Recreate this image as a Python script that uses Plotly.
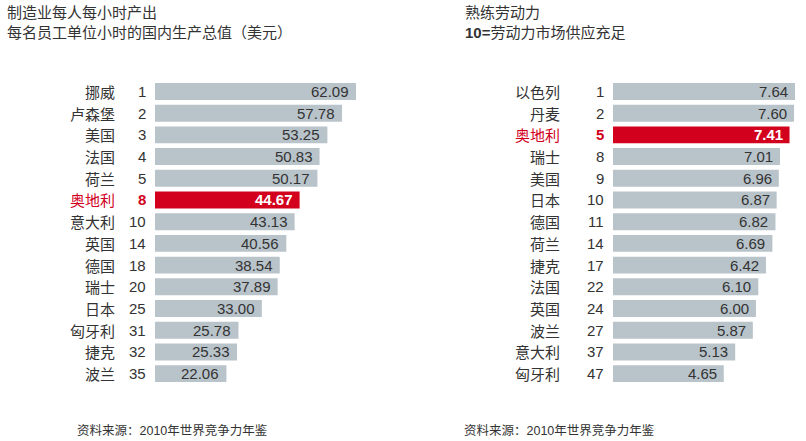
import plotly.graph_objects as go

W, H = 806, 441

left_countries = ["挪威", "卢森堡", "美国", "法国", "荷兰", "奥地利", "意大利", "英国", "德国", "瑞士", "日本", "匈牙利", "捷克", "波兰"]
left_ranks = [1, 2, 3, 4, 5, 8, 10, 14, 18, 20, 25, 31, 32, 35]
left_values = [62.09, 57.78, 53.25, 50.83, 50.17, 44.67, 43.13, 40.56, 38.54, 37.89, 33.00, 25.78, 25.33, 22.06]

right_countries = ["以色列", "丹麦", "奥地利", "瑞士", "美国", "日本", "德国", "荷兰", "捷克", "法国", "英国", "波兰", "意大利", "匈牙利"]
right_ranks = [1, 2, 5, 8, 9, 10, 11, 14, 17, 22, 24, 27, 37, 47]
right_values = [7.64, 7.60, 7.41, 7.01, 6.96, 6.87, 6.82, 6.69, 6.42, 6.10, 6.00, 5.87, 5.13, 4.65]

highlight = "奥地利"

left_title = ["制造业每人每小时产出", "每名员工单位小时的国内生产总值（美元）"]
right_title = ["熟练劳动力", "<b>10=</b>劳动力市场供应充足"]
source = "资料来源：2010年世界竞争力年鉴"

GRAY = "#B9C3CA"
RED = "#D2001C"
TXT = "#333333"
FONT = "Liberation Sans, Arial, Noto Sans CJK SC, sans-serif"
CJK = "Noto Sans CJK SC, sans-serif"

fig = go.Figure()

def px_x(p):
    return p / W

def px_y(p):
    return 1 - p / H

panels = [
    dict(c=left_countries, r=left_ranks, v=left_values, xa="x", name_x=117, rank_x=148, fmt="{:.2f}"),
    dict(c=right_countries, r=right_ranks, v=right_values, xa="x2", name_x=562, rank_x=606, fmt="{:.2f}"),
]

annotations = []
for p in panels:
    idx = list(range(len(p["c"])))
    colors = [RED if c == highlight else GRAY for c in p["c"]]
    fig.add_trace(go.Bar(
        x=p["v"], y=idx, orientation="h", xaxis=p["xa"], yaxis="y",
        marker=dict(color=colors, line=dict(width=0)), width=0.78,
        hoverinfo="skip", showlegend=False,
    ))
    for i, (c, r, v) in enumerate(zip(p["c"], p["r"], p["v"])):
        hl = c == highlight
        annotations.append(dict(
            x=px_x(p["name_x"]), xref="paper", y=i, yref="y", xanchor="right", yanchor="middle",
            text=c, showarrow=False,
            font=dict(family=CJK, size=15, color=RED if hl else TXT),
        ))
        annotations.append(dict(
            x=px_x(p["rank_x"]), xref="paper", y=i, yref="y", xanchor="right", yanchor="middle",
            text=f"<b>{r}</b>" if hl else str(r), showarrow=False,
            font=dict(family=FONT, size=15, color=RED if hl else TXT),
        ))
        annotations.append(dict(
            x=v, xref=p["xa"], y=i, yref="y", xanchor="right", yanchor="middle", xshift=-5,
            text=f"<b>{p['fmt'].format(v)}</b>" if hl else p["fmt"].format(v), showarrow=False,
            font=dict(family=FONT, size=15, color="white" if hl else TXT),
        ))

for x0, lines in [(5, left_title), (463, right_title)]:
    for yc, t in zip([12, 32], lines):
        annotations.append(dict(
            x=px_x(x0), xref="paper", y=px_y(yc), yref="paper", xanchor="left", yanchor="middle",
            text=t, showarrow=False, font=dict(family=FONT, size=15, color=TXT),
        ))

for x0 in [75, 462]:
    annotations.append(dict(
        x=px_x(x0), xref="paper", y=px_y(431), yref="paper", xanchor="left", yanchor="middle",
        text=source, showarrow=False, font=dict(family=FONT, size=12.5, color=TXT),
    ))

top, bottom = 80.6, 384.5
fig.update_layout(
    width=W, height=H, margin=dict(l=0, r=0, t=0, b=0),
    paper_bgcolor="white", plot_bgcolor="white",
    xaxis=dict(domain=[px_x(155), px_x(356)], range=[0, max(left_values)], visible=False, fixedrange=True),
    xaxis2=dict(domain=[px_x(613), px_x(795)], range=[0, max(right_values)], visible=False, anchor="y", fixedrange=True),
    yaxis=dict(domain=[px_y(bottom), px_y(top)], range=[len(left_countries) - 0.5, -0.5], visible=False, fixedrange=True),
    annotations=annotations,
    bargap=0.2,
)

fig.write_html(
    "out.html",
    config={"displayModeBar": False},
    post_script="document.body.style.margin='0';document.body.style.overflow='hidden';",
)
